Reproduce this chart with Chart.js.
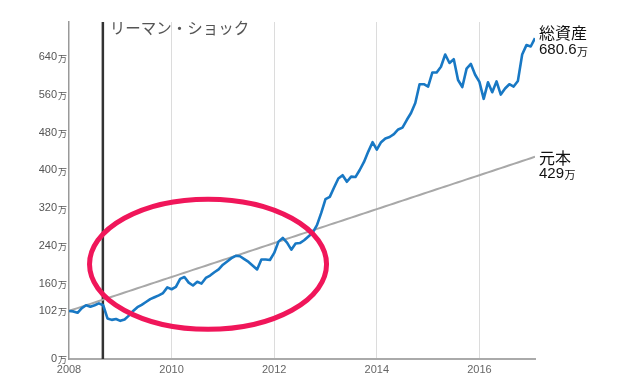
<!DOCTYPE html>
<html>
<head>
<meta charset="utf-8">
<script src="https://cdn.jsdelivr.net/npm/chart.js@4/dist/chart.umd.min.js"></script>
<style>
  html, body { margin: 0; padding: 0; background: #ffffff; }
  #wrap { width: 639px; height: 378px; }
</style>
</head>
<body>
<div id="wrap"><canvas id="c" width="639" height="378"></canvas></div>
<script>
// ---- data ----
const startYear = 2008;               // first month = Jan 2008, monthly points
const yearTicks = [2008, 2010, 2012, 2014, 2016];
const yTickValues = [0, 102, 160, 240, 320, 400, 480, 560, 640];
const seriesNames = ['総資産', '元本'];
const totalAssets = [
  102, 101, 98, 108, 114, 111, 114, 118, 114, 86,
  83, 85, 81, 84, 92, 102, 110, 115, 121, 127,
  131, 135, 140, 152, 148, 153, 170, 174, 162, 156,
  164, 160, 172, 177, 184, 190, 200, 207, 214, 219,
  218, 212, 206, 198, 190, 211, 211, 210, 225, 249,
  257, 247, 232, 245, 246, 252, 260, 268, 284, 310,
  339, 344, 364, 383, 390, 376, 387, 386, 401, 418,
  440, 460, 444, 460, 468, 471, 477, 487, 491, 507,
  522, 543, 583, 583, 578, 608, 608, 620, 646, 628,
  636, 592, 577, 616, 626, 603, 588, 552, 587, 566,
  589, 561, 574, 583, 578, 590, 646, 666, 663, 680.6
];
const principal = [
  102, 105, 108, 111, 114, 117, 120, 123, 126, 129,
  132, 135, 138, 141, 144, 147, 150, 153, 156, 159,
  162, 165, 168, 171, 174, 177, 180, 183, 186, 189,
  192, 195, 198, 201, 204, 207, 210, 213, 216, 219,
  222, 225, 228, 231, 234, 237, 240, 243, 246, 249,
  252, 255, 258, 261, 264, 267, 270, 273, 276, 279,
  282, 285, 288, 291, 294, 297, 300, 303, 306, 309,
  312, 315, 318, 321, 324, 327, 330, 333, 336, 339,
  342, 345, 348, 351, 354, 357, 360, 363, 366, 369,
  372, 375, 378, 381, 384, 387, 390, 393, 396, 399,
  402, 405, 408, 411, 414, 417, 420, 423, 426, 429
];
const lehmanDate = 2008.66;
const lehmanLabel = 'リーマン・ショック';
const unit = '万';
// highlighted region (data units)
const ellipseCenter = { x: 2010.71, y: 201 };
const ellipseRadius = { x: 2.31, y: 138 };

// ---- build ----
const toPoints = arr => arr.map((v, i) => ({ x: startYear + i / 12, y: v }));
const latin = '"Liberation Sans", Arial, Helvetica, sans-serif';
const cjk = '"Noto Sans CJK JP", "Noto Sans", sans-serif';

const labelStyle = [
  { nameDy: -5, valDy: 12 },
  { nameDy: 1, valDy: 17 }
];

const annot = {
  id: 'annot',
  beforeDatasetsDraw(chart) {
    const { ctx, chartArea, scales } = chart;
    const x = scales.x.getPixelForValue(lehmanDate);
    ctx.save();
    ctx.strokeStyle = '#333333';
    ctx.lineWidth = 2.5;
    ctx.beginPath();
    ctx.moveTo(x, chartArea.top);
    ctx.lineTo(x, chartArea.bottom);
    ctx.stroke();
    ctx.restore();
  },
  afterDatasetsDraw(chart) {
    const { ctx, chartArea, scales } = chart;
    const xs = scales.x, ys = scales.y;
    // ellipse
    const cx = xs.getPixelForValue(ellipseCenter.x);
    const cy = ys.getPixelForValue(ellipseCenter.y);
    const rx = xs.getPixelForValue(ellipseCenter.x + ellipseRadius.x) - cx;
    const ry = cy - ys.getPixelForValue(ellipseCenter.y + ellipseRadius.y);
    ctx.save();
    ctx.strokeStyle = '#f0165a';
    ctx.lineWidth = 5;
    ctx.beginPath();
    ctx.ellipse(cx, cy, rx, ry, 0, 0, Math.PI * 2);
    ctx.stroke();
    ctx.restore();
  },
  afterDraw(chart) {
    const { ctx, chartArea, scales } = chart;
    const xs = scales.x, ys = scales.y;
    ctx.save();
    // lehman label
    const lx = xs.getPixelForValue(lehmanDate);
    ctx.fillStyle = '#555555';
    ctx.font = '15.5px ' + cjk;
    ctx.textAlign = 'left';
    ctx.textBaseline = 'middle';
    ctx.fillText(lehmanLabel, lx + 7, chartArea.top + 6);
    // y tick unit marks
    ctx.fillStyle = '#555555';
    ctx.font = '9px ' + cjk;
    ys.ticks.forEach(t => {
      const y = ys.getPixelForValue(t.value);
      ctx.fillText(unit, ys.right - 12 + 1, y + 1);
    });
    // series end labels
    chart.data.datasets.forEach((ds, di) => {
      const meta = chart.getDatasetMeta(di);
      const last = meta.data[meta.data.length - 1];
      const st = labelStyle[di];
      const x = last.x + 4;
      ctx.fillStyle = '#111111';
      ctx.font = '16px ' + cjk;
      ctx.textBaseline = 'middle';
      ctx.fillText(ds.label, x, last.y + st.nameDy);
      const val = String(ds.data[ds.data.length - 1].y);
      ctx.font = '15px ' + latin;
      ctx.fillText(val, x, last.y + st.valDy);
      const w = ctx.measureText(val).width;
      ctx.font = '11px ' + cjk;
      ctx.fillText(unit, x + w + 0.5, last.y + st.valDy + 1.5);
    });
    ctx.restore();
  }
};

new Chart(document.getElementById('c'), {
  type: 'line',
  data: {
    datasets: [
      { label: seriesNames[0], data: toPoints(totalAssets), borderColor: '#1878c4', borderWidth: 2.6,
        pointRadius: 0, tension: 0, fill: false, borderJoinStyle: 'round' },
      { label: seriesNames[1], data: toPoints(principal), borderColor: '#a8a8a8', borderWidth: 2,
        pointRadius: 0, tension: 0, fill: false }
    ]
  },
  options: {
    responsive: false,
    animation: false,
    layout: { padding: { top: 22, right: 104, left: 0, bottom: 0 } },
    plugins: { legend: { display: false }, tooltip: { enabled: false } },
    scales: {
      x: {
        type: 'linear',
        min: startYear,
        max: startYear + (totalAssets.length - 1) / 12,
        afterBuildTicks: s => { s.ticks = yearTicks.map(v => ({ value: v })); },
        afterFit: s => { s.height = 19; },
        grid: {
          drawTicks: false,
          lineWidth: 1,
          color: c => (c.tick && c.tick.value === startYear) ? 'rgba(0,0,0,0)' : '#dcdcdc'
        },
        border: { color: '#aaaaaa', width: 2 },
        ticks: {
          padding: 4, color: '#666666', autoSkip: false, maxRotation: 0,
          font: { size: 11, family: latin },
          callback: v => String(v)
        }
      },
      y: {
        min: 0,
        max: 715,
        afterBuildTicks: s => { s.ticks = yTickValues.map(v => ({ value: v })); },
        afterFit: s => { s.width = 69; },
        grid: { display: false, drawTicks: false },
        border: { color: '#999999', width: 1.5 },
        ticks: {
          padding: 12, color: '#555555', autoSkip: false,
          font: { size: 11, family: latin },
          callback: v => String(v)
        }
      }
    }
  },
  plugins: [annot]
});
</script>
</body>
</html>
